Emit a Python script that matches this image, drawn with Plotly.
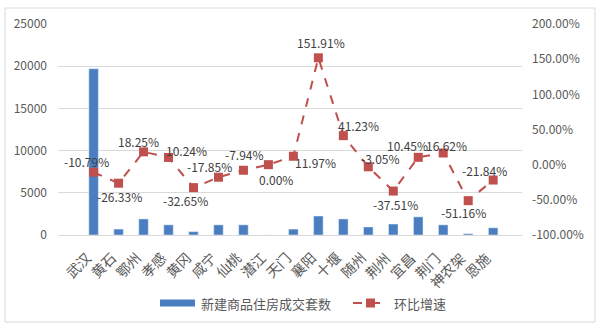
import plotly.graph_objects as go

cities = ["武汉", "黄石", "鄂州", "孝感", "黄冈", "咸宁", "仙桃", "潜江", "天门",
          "襄阳", "十堰", "随州", "荆州", "宜昌", "荆门", "神农架", "恩施"]
sales = [19700, 700, 1900, 1200, 400, 1200, 1200, 0, 700,
         2250, 1900, 950, 1300, 2150, 1200, 150, 850]
growth = [-10.79, -26.33, 18.25, 10.24, -32.65, -17.85, -7.94, 0.00, 11.97,
          151.91, 41.23, -3.05, -37.51, 10.45, 16.62, -51.16, -21.84]
# label offsets in pixels (dx right, dy up)
label_dx = [-7, 1, -5, 18, -8, -9, 1, 8, 22, 3, 15, 12, 2, -11, 3, -5, -9]
label_dy = [11, -13, 10, 7, -13, 11, 16, -15, -6, 15, 10, 8, -13, 12, 7, -12, 10]

FONT = "Noto Sans CJK SC, sans-serif"
GRAY = "#595959"
BLUE = "#4A7EC0"
RED = "#C0504D"

fig = go.Figure()
fig.add_trace(go.Bar(x=cities, y=sales, name="新建商品住房成交套数",
                     marker_color=BLUE, yaxis="y"))
fig.add_trace(go.Scatter(x=cities, y=growth, name="环比增速", yaxis="y2",
                         mode="lines+markers",
                         line=dict(color=RED, width=2, dash="dash"),
                         marker=dict(symbol="square", size=9, color=RED),
                         cliponaxis=False))

l, r, t, b = 58, 78, 24, 93
W, H = 600, 328
pw, ph = W - l - r, H - t - b

def px(x):
    return (x - l) / pw

def py(y):
    return (t + ph - y) / ph

annotations = []
for c, v, dx, dy in zip(cities, growth, label_dx, label_dy):
    annotations.append(dict(x=c, y=v, xref="x", yref="y2", text=f"{v:.2f}%",
                            showarrow=False, xshift=dx, yshift=dy,
                            xanchor="center", yanchor="middle",
                            font=dict(family=FONT, size=12, color="#404040")))

# category labels (rotated)
for c in cities:
    annotations.append(dict(x=c, y=py(245), xref="x", yref="paper", text=c,
                            showarrow=False, textangle=-45, xshift=4,
                            xanchor="right", yanchor="top",
                            font=dict(family=FONT, size=14, color=GRAY)))

# manual legend
legend_y = 303
annotations.append(dict(x=px(199), y=py(legend_y), xref="paper", yref="paper",
                        text="新建商品住房成交套数", showarrow=False,
                        xanchor="left", yanchor="middle",
                        font=dict(family=FONT, size=13, color=GRAY)))
annotations.append(dict(x=px(392), y=py(legend_y), xref="paper", yref="paper",
                        text="环比增速", showarrow=False,
                        xanchor="left", yanchor="middle",
                        font=dict(family=FONT, size=13, color=GRAY)))

shapes = [
    dict(type="rect", xref="paper", yref="paper",
         x0=px(5), x1=px(595), y0=py(322), y1=py(8),
         line=dict(color="#D9D9D9", width=1), layer="below"),
    dict(type="rect", xref="paper", yref="paper",
         x0=px(160), x1=px(195), y0=py(legend_y + 3.5), y1=py(legend_y - 3.5),
         fillcolor=BLUE, line=dict(width=0)),
    dict(type="line", xref="paper", yref="paper",
         x0=px(353), x1=px(388), y0=py(legend_y), y1=py(legend_y),
         line=dict(color=RED, width=2, dash="dash")),
    dict(type="rect", xref="paper", yref="paper",
         x0=px(366), x1=px(375), y0=py(legend_y + 4.5), y1=py(legend_y - 4.5),
         fillcolor=RED, line=dict(width=0)),
]

fig.update_layout(
    width=W, height=H,
    margin=dict(l=l, r=r, t=t, b=b, pad=0),
    paper_bgcolor="white", plot_bgcolor="white",
    font=dict(family=FONT, size=12, color=GRAY),
    bargap=0.62,
    showlegend=False,
    xaxis=dict(showgrid=False, showline=True, linecolor="#D9D9D9",
               showticklabels=False, ticks="", automargin=False),
    yaxis=dict(range=[0, 25000], dtick=5000, tickformat="d", showgrid=True,
               gridcolor="#D9D9D9", zeroline=False,
               tickfont=dict(family=FONT, size=12, color=GRAY),
               ticklabelstandoff=10, automargin=False),
    yaxis2=dict(range=[-100, 200], overlaying="y", side="right",
                showgrid=False, zeroline=False,
                tickvals=[-100, -50, 0, 50, 100, 150, 200],
                ticktext=[f"{v:.2f}%" for v in [-100, -50, 0, 50, 100, 150, 200]],
                tickfont=dict(family=FONT, size=12, color=GRAY),
                ticklabelstandoff=9, automargin=False),
    annotations=annotations,
    shapes=shapes,
)

fig.write_html("out.html")
